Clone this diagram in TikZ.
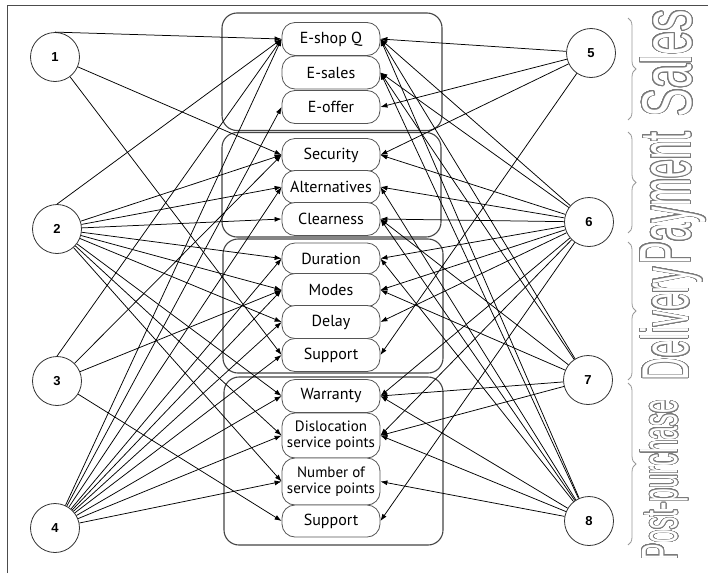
\documentclass[tikz,border=0pt]{standalone}
\usepackage{fontspec}
\setmainfont{PT Sans}
\newfontfamily\numfont{Liberation Sans}
\newfontfamily\labfont{Liberation Sans}
\usepackage{contour}
\contourlength{1.1pt}
\contournumber{32}
\usetikzlibrary{arrows.meta,decorations.pathreplacing}
\definecolor{boxline}{HTML}{555555}
\definecolor{grpline}{HTML}{444444}
\definecolor{labgray}{HTML}{7A7A7A}
\definecolor{bracegray}{HTML}{999999}
\newcommand{\sidelab}[3]{\resizebox{#1}{#2}{\contour{labgray}{\textcolor{white}{\fontsize{70}{70}\labfont #3}}}}
\begin{document}
\begin{tikzpicture}[x=1pt,y=-1pt,
  item/.style={draw=boxline, line width=0.8pt, rounded corners=13pt, fill=white,
    minimum width=98pt, minimum height=33pt, inner sep=0pt, align=center,
    font=\fontsize{16}{17}\selectfont},
  item2/.style={item, minimum height=45pt, font=\fontsize{15}{16}\selectfont},
  grp/.style={draw=grpline, line width=1.1pt, rounded corners=15pt},
  src/.style={circle, draw=black!80, line width=0.8pt, fill=white, minimum size=49pt,
    inner sep=0pt, font=\numfont\bfseries\fontsize{13}{13}\selectfont},
  edge/.style={line width=0.75pt, -{Latex[length=7pt,width=5pt]}},
  brc/.style={draw=bracegray, line width=0.8pt, decorate, decoration={brace, amplitude=8pt}},
  sidel/.style={rotate=90, anchor=north, inner sep=0pt}]
\useasboundingbox (0,0) rectangle (708,573);
\fill[white] (0,0) rectangle (708,573);
\draw[black!70, line width=1pt] (7,573) -- (7,5) -- (708,5);
% groups
\draw[grp] (222,13) rectangle (442,130.5);
\draw[grp] (222,132.5) rectangle (441,237);
\draw[grp] (223,239) rectangle (443,373);
\draw[grp] (224,377) rectangle (443,545);
% source nodes
\node[src] (n1) at (55,57) {1};
\node[src] (n2) at (57,229) {2};
\node[src] (n3) at (57,381) {3};
\node[src] (n4) at (55,528) {4};
\node[src] (n5) at (591,53) {5};
\node[src] (n6) at (589,222) {6};
\node[src] (n7) at (588,380) {7};
\node[src] (n8) at (589,521) {8};
% items
\node[item] (eq) at (331,39) {E-shop Q};
\node[item] (es) at (331,72.5) {E-sales};
\node[item] (eo) at (331,107) {E-offer};
\node[item] (sec) at (331,155) {Security};
\node[item] (alt) at (331,187) {Alternatives};
\node[item] (cl) at (331,219) {Clearness};
\node[item, minimum height=31pt] (dur) at (331,258.5) {Duration};
\node[item] (mod) at (331,290) {Modes};
\node[item] (del) at (331,322) {Delay};
\node[item] (supa) at (331,355) {Support};
\node[item] (war) at (331,396) {Warranty};
\node[item2] (dis) at (331,435.5) {Dislocation\\service points};
\node[item2, minimum height=47pt] (num) at (331,481.5) {Number of\\service points};
\node[item, minimum height=32pt] (supb) at (331,521) {Support};
% edges
\draw[edge] (n1.north) -- (eq.west);
\draw[edge] (n2.north) -- (eq.west);
\draw[edge] (n3.north) -- (eq.west);
\foreach \s/\t in {n1/sec,n1/supa,
  n2/sec,n2/alt,n2/cl,n2/dur,n2/mod,n2/del,n2/war,n2/dis,n2/num,
  n3/sec,n3/mod,n3/supb,
  n4/eq,n4/eo,n4/alt,n4/dur,n4/mod,n4/del,n4/supa,n4/war,n4/dis,n4/num}
  \draw[edge] (\s) -- (\t.west);
\foreach \s/\t in {n5/eq,n5/eo,n5/sec,n5/supa,
  n6/eq,n6/es,n6/sec,n6/alt,n6/cl,n6/dur,n6/mod,n6/del,n6/war,n6/dis,n6/supb,
  n7/eq,n7/es,n7/cl,n7/mod,n7/war,n7/dis,
  n8/eq,n8/es,n8/alt,n8/cl,n8/dur,n8/war,n8/dis,n8/num}
  \draw[edge] (\s) -- (\t.east);
% braces
\draw[brc] (628,18) -- (628,120);
\draw[brc] (628,132) -- (628,233);
\draw[brc] (628,242) -- (628,380);
\draw[brc] (628,383) -- (628,545);
% side labels
\node[sidel] (lsales) at (640,63.5) {\sidelab{107pt}{51pt}{Sales}};
\node[sidel] (lpay) at (640,198) {\sidelab{132pt}{50pt}{Payment}};
\node[sidel] (ldel) at (640,324) {\sidelab{113pt}{48pt}{Delivery}};
\node[sidel] (lpost) at (640,480) {\sidelab{160pt}{37pt}{Post-purchase}};
\end{tikzpicture}
\end{document}
